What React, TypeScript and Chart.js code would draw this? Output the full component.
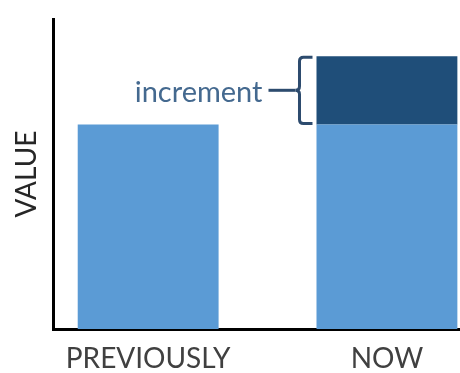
import React, { useEffect, useRef } from "react";
import { Chart, registerables } from "chart.js";

Chart.register(...registerables);

const categories = ["PREVIOUSLY", "NOW"];
const baseValues = [66, 66];
const incrementValues = [0, 22];
const yAxisTitle = "VALUE";
const annotationText = "increment";

const FONT = "Lato, 'Open Sans', sans-serif";

const bracePlugin = {
  id: "bracePlugin",
  afterDatasetsDraw(chart: any) {
    const meta = chart.getDatasetMeta(1);
    const el = meta.data[1];
    if (!el) return;
    const { x, y, base, width } = el.getProps(["x", "y", "base", "width"], true);
    const left = x - width / 2;
    const top = y;
    const bottom = base;
    const mid = (top + bottom) / 2;
    const tipX = left - 4;
    const vx = left - 17;
    const r = 4;
    const ctx = chart.ctx;
    ctx.save();
    ctx.strokeStyle = "#2d4b6e";
    ctx.lineWidth = 3;
    ctx.lineCap = "butt";
    ctx.beginPath();
    ctx.moveTo(tipX, top + 1);
    ctx.lineTo(vx + r, top + 1);
    ctx.quadraticCurveTo(vx, top + 1, vx, top + 1 + r);
    ctx.lineTo(vx, mid - r);
    ctx.quadraticCurveTo(vx, mid, vx - r, mid);
    ctx.quadraticCurveTo(vx, mid, vx, mid + r);
    ctx.lineTo(vx, bottom - 1 - r);
    ctx.quadraticCurveTo(vx, bottom - 1, vx + r, bottom - 1);
    ctx.lineTo(tipX, bottom - 1);
    ctx.stroke();
    const textRight = vx - 35;
    ctx.beginPath();
    ctx.moveTo(textRight + 4, mid);
    ctx.lineTo(vx - r, mid);
    ctx.stroke();
    ctx.fillStyle = "#44698f";
    ctx.font = `29px ${FONT}`;
    ctx.textAlign = "right";
    ctx.textBaseline = "middle";
    ctx.fillText(annotationText, textRight - 2, mid + 2);
    ctx.restore();
  },
};

export default function App() {
  const ref = useRef<HTMLCanvasElement | null>(null);
  useEffect(() => {
    document.body.style.margin = "0";
    const canvas = ref.current;
    if (!canvas) return;
    const chart = new Chart(canvas, {
      type: "bar",
      data: {
        datasets: [
          {
            label: "base",
            data: categories.map((_, i) => ({ x: i, y: baseValues[i] })),
            backgroundColor: "#5b9bd5",
            borderWidth: 0,
          },
          {
            label: "increment",
            data: categories.map((_, i) => ({ x: i, y: incrementValues[i] })),
            backgroundColor: "#1f4e79",
            borderWidth: 0,
          },
        ],
      },
      options: {
        animation: false,
        responsive: false,
        maintainAspectRatio: false,
        layout: { padding: { top: 19, right: 0, bottom: -16, left: 0 } },
        datasets: { bar: { categoryPercentage: 1, barPercentage: 0.59 } },
        plugins: {
          legend: { display: false },
          tooltip: { enabled: false },
        },
        scales: {
          x: {
            type: "linear",
            offset: false,
            stacked: true,
            min: -0.396,
            max: 1.306,
            grid: { display: false, drawTicks: false, offset: false },
            border: { display: true, color: "#000", width: 3 },
            afterBuildTicks: (scale: any) => {
              scale.ticks = categories.map((_, i) => ({ value: i }));
            },
            ticks: {
              autoSkip: false,
              maxRotation: 0,
              padding: 16,
              color: "#404040",
              font: { family: FONT, size: 28, lineHeight: 1 },
              callback: (v: any) => categories[Math.round(Number(v))] ?? "",
            },
          },
          y: {
            stacked: true,
            min: 0,
            max: 100,
            grid: { display: false, drawTicks: false },
            border: { display: true, color: "#000", width: 3 },
            ticks: { display: false },
            title: {
              display: true,
              text: yAxisTitle,
              color: "#262626",
              font: { family: FONT, size: 28 },
              padding: { top: 10, bottom: 10 },
            },
          },
        },
      },
      plugins: [bracePlugin],
    });
    return () => chart.destroy();
  }, []);
  return (
    <div style={{ width: 460, height: 373 }}>
      <canvas ref={ref} width={460} height={373} style={{ display: "block" }} />
    </div>
  );
}
